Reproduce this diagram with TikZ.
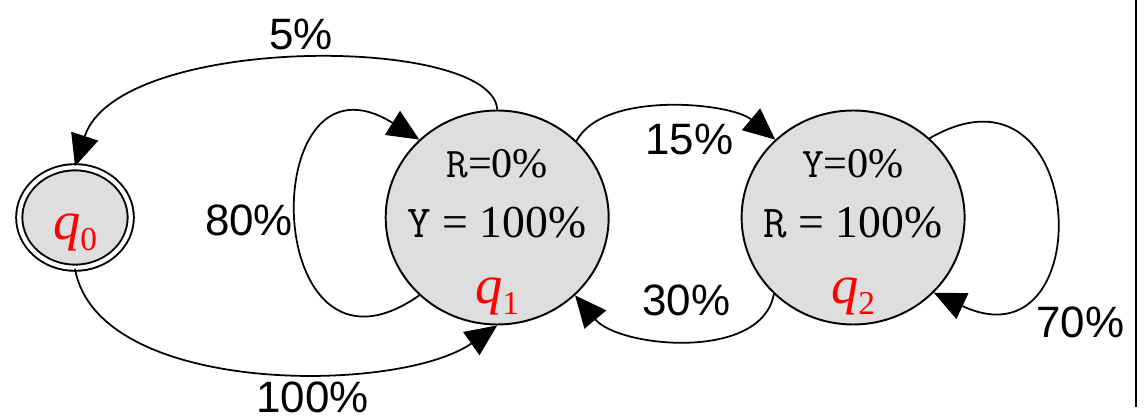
\documentclass[tikz,border=0pt]{standalone}
\usepackage{fontspec}
\setmainfont{Liberation Serif}
\setsansfont{Liberation Sans}
\usepackage{tikz}
\usetikzlibrary{arrows.meta,positioning,shapes.geometric}
\definecolor{stategray}{HTML}{DEDEDE}
\definecolor{namered}{HTML}{FF0000}
\newcommand{\qname}[1]{{\color{namered}\fontsize{31}{31}\selectfont\itshape q\/\raisebox{-6pt}{\upshape\fontsize{19}{19}\selectfont #1}}}
\tikzset{
  statenode/.style={
    ellipse, draw=black, fill=stategray, line width=1.1pt,
    minimum width=4.46cm, minimum height=4.28cm,
    inner sep=0pt
  },
  startnode/.style={
    statenode, double=white, double distance=2.4pt,
    minimum width=2.23cm, minimum height=2.01cm
  },
  valtop/.style={anchor=base, inner sep=0pt, font=\fontsize{24}{28}\selectfont},
  valbot/.style={anchor=base, inner sep=0pt, font=\fontsize{26}{30}\selectfont},
  nametext/.style={anchor=base, inner sep=0pt},
  problabel/.style={font=\fontsize{25}{30}\sffamily, inner sep=2pt},
  trans/.style={-{Triangle[length=18pt,width=16pt]}, line width=1pt},
}
\begin{document}
\begin{tikzpicture}
  \useasboundingbox (0,0) rectangle (22.88,8.38);
  % states
  \node[startnode] (q0) at (1.5,4.03) {};
  \node[statenode, right=5.06cm of q0] (q1) {};
  \node[statenode, right=2.62cm of q1] (q2) {};

  % texts in the states
  \node[nametext] (n0) at ([yshift=-0.45cm]q0.center) {\qname{0}};
  \node[valtop] (r1) at ([yshift=0.8cm]q1.center) {\texttt{R}=0\%};
  \node[valbot] (y1) at ([yshift=-0.4cm]q1.center) {\texttt{Y} = 100\%};
  \node[nametext] (n1) at ([yshift=-1.72cm]q1.center) {\qname{1}};
  \node[valtop] (y2) at ([yshift=0.8cm]q2.center) {\texttt{Y}=0\%};
  \node[valbot] (r2) at ([yshift=-0.4cm]q2.center) {\texttt{R} = 100\%};
  \node[nametext] (n2) at ([yshift=-1.72cm]q2.center) {\qname{2}};

  % transitions
  \draw[trans] (q1.north) to[out=93, in=72, out distance=1.5cm, in distance=2.8cm]
    node[problabel, pos=0.5, above=3pt] (p5) {5\%} (q0.north);
  \draw[trans] (q1.225) to[out=215, in=148, distance=3.9cm]
    node[problabel, left=0pt] (p80) {80\%} (q1.135);
  \draw[trans] (q0.south) to[out=-80, in=215, out distance=2.6cm, in distance=2.4cm]
    node[problabel, pos=0.6, below=3pt] (p100) {100\%} (q1.south);
  \draw[trans] (q1.44) to[out=62, in=140, distance=1.15cm]
    node[problabel, pos=0.58, below=6pt] (p15) {15\%} (q2.135);
  \draw[trans] (q2.224) to[out=260, in=310, distance=1.37cm]
    node[problabel, above=11pt] (p30) {30\%} (q1.315);
  \draw[trans] (q2.46) to[out=30, in=-25, distance=3.7cm]
    node[problabel, pos=0.8, anchor=north west, xshift=0.38cm, yshift=-0.1cm] (p70) {70\%} (q2.317);

  % frame edge
  \draw[line width=1.2pt] (22.72,8.38) -- (22.72,0.24);
\end{tikzpicture}
\end{document}
